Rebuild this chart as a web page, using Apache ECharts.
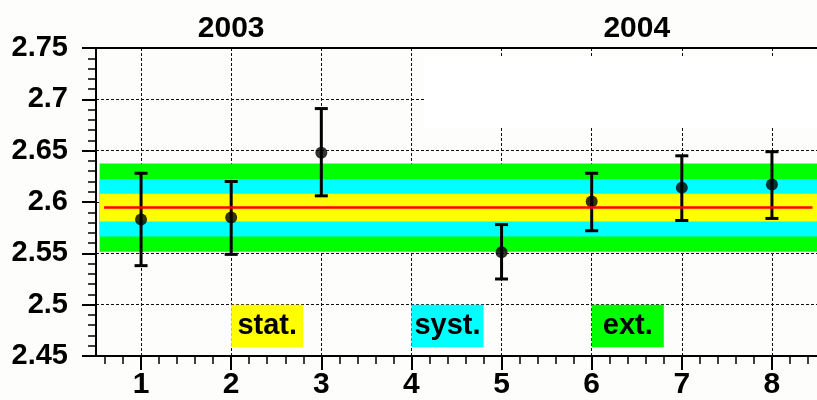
<!DOCTYPE html>
<html>
<head>
<meta charset="utf-8">
<script src="https://cdn.jsdelivr.net/npm/echarts@6/dist/echarts.min.js"></script>
<style>
html,body{margin:0;padding:0;background:#fdfdfc;}
#chart{width:817px;height:400px;}
</style>
</head>
<body>
<div id="chart"></div>
<script>
// ---- data ----
const xValues   = [1, 2, 3, 5, 6, 7, 8];
const yValues   = [2.583, 2.585, 2.648, 2.551, 2.6005, 2.614, 2.617];
const errHigh   = [2.628, 2.620, 2.691, 2.578, 2.628, 2.645, 2.649];
const errLow    = [2.538, 2.549, 2.606, 2.525, 2.572, 2.582, 2.584];
const meanValue = 2.5945;
const statErr   = 0.0135;
const systErr   = 0.028;
const extErr    = 0.043;
const xTicks    = [1, 2, 3, 4, 5, 6, 7, 8];
const yearLabels = ['2003', '2004'];
const yearPos    = [2, 6.5];
const legendNames = ['stat.', 'syst.', 'ext.'];
const legendX     = [2, 4, 6];

const FONT = '"Liberation Sans", Arial, Helvetica, sans-serif';
const BLACK = '#000';
const YELLOW = '#ffff00', CYAN = '#00ffff', GREEN = '#00ff00', RED = '#ff0000';

const chart = echarts.init(document.getElementById('chart'), null, {renderer: 'canvas'});

const pointData = xValues.map((x, i) => [x, yValues[i]]);
const barData = xValues.map((x, i) => [x, errLow[i], errHigh[i]]);

function band(err, color) {
  return [{coord: [0.54, meanValue - err], itemStyle: {color: color}},
          {coord: [8.5, meanValue + err]}];
}
const legendColors = [YELLOW, CYAN, GREEN];

const option = {
  backgroundColor: '#fdfdfc',
  animation: false,
  grid: {left: 96, right: -3.5, top: 48, bottom: 43, containLabel: false},
  xAxis: [{
    type: 'value', min: 0.5, max: 8.5, splitNumber: 8, position: 'bottom',
    axisLine: {show: true, onZero: false, lineStyle: {color: BLACK, width: 2}},
    axisTick: {show: true, customValues: xTicks, length: 14, lineStyle: {color: BLACK, width: 2}},
    minorTick: {show: true, splitNumber: 5, length: 8, lineStyle: {color: BLACK, width: 1.5}},
    axisLabel: {customValues: xTicks, margin: 14, color: BLACK, fontSize: 30, fontWeight: 'bold', fontFamily: FONT},
    splitLine: {show: true, lineStyle: {color: '#111', width: 1, type: [3, 2]}},
    minorSplitLine: {show: false}
  }, {
    type: 'value', min: 0.5, max: 8.5, position: 'top',
    axisLine: {show: true, onZero: false, lineStyle: {color: BLACK, width: 2}},
    axisTick: {show: false},
    axisLabel: {customValues: yearPos, margin: 4, color: BLACK, fontSize: 30, fontWeight: 'bold', fontFamily: FONT,
      formatter: v => yearLabels[yearPos.indexOf(v)]},
    splitLine: {show: false}
  }],
  yAxis: {
    type: 'value', min: 2.45, max: 2.75, interval: 0.05,
    axisLine: {show: true, onZero: false, lineStyle: {color: BLACK, width: 2}},
    axisTick: {show: true, length: 14, lineStyle: {color: BLACK, width: 2}},
    minorTick: {show: true, splitNumber: 5, length: 8, lineStyle: {color: BLACK, width: 1.5}},
    axisLabel: {margin: 28, color: BLACK, fontSize: 29, fontWeight: 'bold', fontFamily: FONT},
    splitLine: {show: true, lineStyle: {color: '#111', width: 1, type: [3, 2]}}
  },
  series: [
    {
      name: 'bands', type: 'line', data: [], z: 1,
      markArea: {
        silent: true,
        label: {show: false},
        data: [
          band(extErr, GREEN),
          band(systErr, CYAN),
          band(statErr, YELLOW),
          [{coord: [4.14, 2.672], itemStyle: {color: '#ffffff'}}, {coord: [8.5, 2.742]}]
        ].concat(legendNames.map((n, i) => [
          {coord: [legendX[i], 2.4585], name: n, itemStyle: {color: legendColors[i]},
           label: {show: true, position: 'inside', color: BLACK, fontSize: 29, fontWeight: 'bold', fontFamily: FONT}},
          {coord: [legendX[i] + 0.8, 2.5]}
        ]))
      },
      markLine: {
        silent: true, symbol: 'none', label: {show: false},
        lineStyle: {color: RED, width: 2.5, type: 'solid'},
        data: [[{coord: [0.59, meanValue]}, {coord: [8.45, meanValue]}]]
      }
    },
    {
      name: 'errors', type: 'custom', z: 3,
      data: barData,
      renderItem: function (params, api) {
        const x = api.value(0);
        const lo = api.coord([x, api.value(1)]);
        const hi = api.coord([x, api.value(2)]);
        const hw = 6.5;
        const style = {stroke: BLACK, lineWidth: 3};
        return {type: 'group', children: [
          {type: 'line', shape: {x1: lo[0], y1: lo[1], x2: hi[0], y2: hi[1]}, style: style},
          {type: 'line', shape: {x1: hi[0] - hw, y1: hi[1], x2: hi[0] + hw, y2: hi[1]}, style: style},
          {type: 'line', shape: {x1: lo[0] - hw, y1: lo[1], x2: lo[0] + hw, y2: lo[1]}, style: style}
        ]};
      }
    },
    {
      name: 'points', type: 'scatter', z: 4, symbol: 'circle', symbolSize: 12,
      itemStyle: {color: BLACK}, data: pointData
    }
  ]
};
chart.setOption(option);
</script>
</body>
</html>
